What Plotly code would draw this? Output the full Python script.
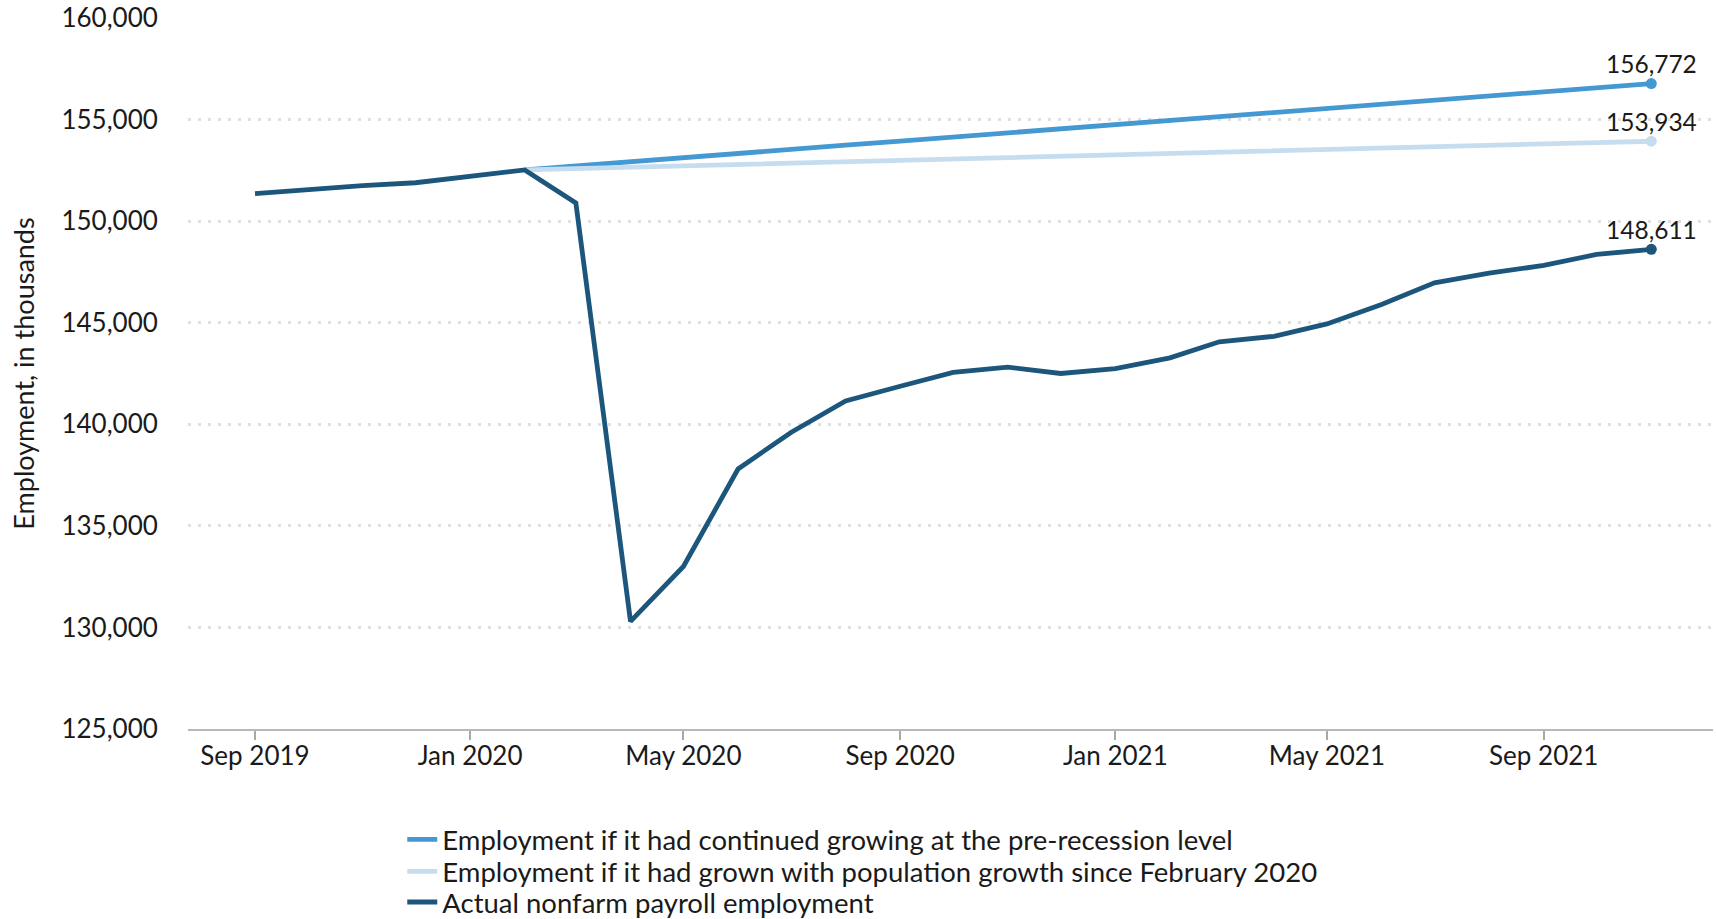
import plotly.graph_objects as go

months = ["2019-09-01", "2019-10-01", "2019-11-01", "2019-12-01",
          "2020-01-01", "2020-02-01", "2020-03-01", "2020-04-01", "2020-05-01",
          "2020-06-01", "2020-07-01", "2020-08-01", "2020-09-01", "2020-10-01",
          "2020-11-01", "2020-12-01", "2021-01-01", "2021-02-01", "2021-03-01",
          "2021-04-01", "2021-05-01", "2021-06-01", "2021-07-01", "2021-08-01",
          "2021-09-01", "2021-10-01", "2021-11-01"]

actual = [151350, 151550, 151750, 151890, 152200, 152523, 150900, 130300, 133000,
          137800, 139600, 141150, 141870, 142550, 142810, 142500, 142740, 143270,
          144060, 144330, 144940, 145900, 146960, 147440, 147820, 148360, 148611]

proj_months = months[5:]
pre_recession = [152523, 152725, 152927, 153130, 153332, 153534, 153737, 153939,
                 154141, 154344, 154546, 154748, 154951, 155153, 155355, 155558,
                 155760, 155962, 156165, 156367, 156569, 156772]
population = [152523, 152590, 152657, 152725, 152792, 152859, 152926, 152993,
              153060, 153128, 153195, 153262, 153329, 153396, 153464, 153531,
              153598, 153665, 153732, 153800, 153867, 153934]

names = ["Employment if it had continued growing at the pre-recession level",
         "Employment if it had grown with population growth since February 2020",
         "Actual nonfarm payroll employment"]
colors = ["#4499d2", "#c6ddef", "#1d567c"]
legend_ids = ["legend", "legend2", "legend3"]

FONT = "Lato"
TXT = "#1a1a1a"
fig = go.Figure()

series = [(proj_months, pre_recession), (proj_months, population), (months, actual)]
for (xs, ys), name, col, lg in zip(series, names, colors, legend_ids):
    fig.add_trace(go.Scatter(x=xs, y=ys, mode="lines", name=name, legend=lg,
                             line=dict(color=col, width=4.8), hoverinfo="skip"))

for (xs, ys), col in zip(series, colors):
    fig.add_trace(go.Scatter(x=[xs[-1]], y=[ys[-1]], mode="markers",
                             marker=dict(color=col, size=11),
                             showlegend=False, hoverinfo="skip"))
    fig.add_annotation(x=xs[-1], y=ys[-1], text=f"{ys[-1]:,}", showarrow=False,
                       xanchor="center", yanchor="middle", yshift=20,
                       font=dict(family=FONT, size=24.5, color=TXT))

legend_common = dict(orientation="v", x=0.1405, xanchor="left", yanchor="middle",
                     font=dict(family=FONT, size=27.5, color=TXT),
                     itemwidth=30, bgcolor="rgba(0,0,0,0)")
fig.update_layout(
    width=1716, height=919,
    margin=dict(l=188, r=3, t=18, b=190, autoexpand=False),
    paper_bgcolor="white", plot_bgcolor="white",
    font=dict(family=FONT, size=26, color=TXT),
    showlegend=True,
    legend=dict(y=-0.1555, **legend_common),
    legend2=dict(y=-0.2005, **legend_common),
    legend3=dict(y=-0.2435, **legend_common),
)

fig.update_xaxes(
    type="date", range=["2019-07-25", "2021-12-06"],
    tick0="2019-09-01", dtick="M4", tickformat="%b %Y",
    showgrid=False, zeroline=False,
    showline=True, linecolor="#b8b8b8", linewidth=2,
    ticks="outside", ticklen=9, tickcolor="#a8a8a8", tickwidth=1.5,
    ticklabelstandoff=-6,
    tickfont=dict(family=FONT, size=26, color=TXT),
)

fig.update_yaxes(
    range=[125000, 160000], dtick=5000, tickformat=",d",
    showgrid=True, gridcolor="#e0e0e0", gridwidth=3, griddash="3px,7px",
    zeroline=False, showline=False,
    ticks="outside", ticklen=24, tickcolor="rgba(0,0,0,0)",
    tickfont=dict(family=FONT, size=26, color=TXT),
    title=dict(text="Employment, in thousands", standoff=18,
               font=dict(family=FONT, size=27, color=TXT)),
)

fig.write_html("out.html")
